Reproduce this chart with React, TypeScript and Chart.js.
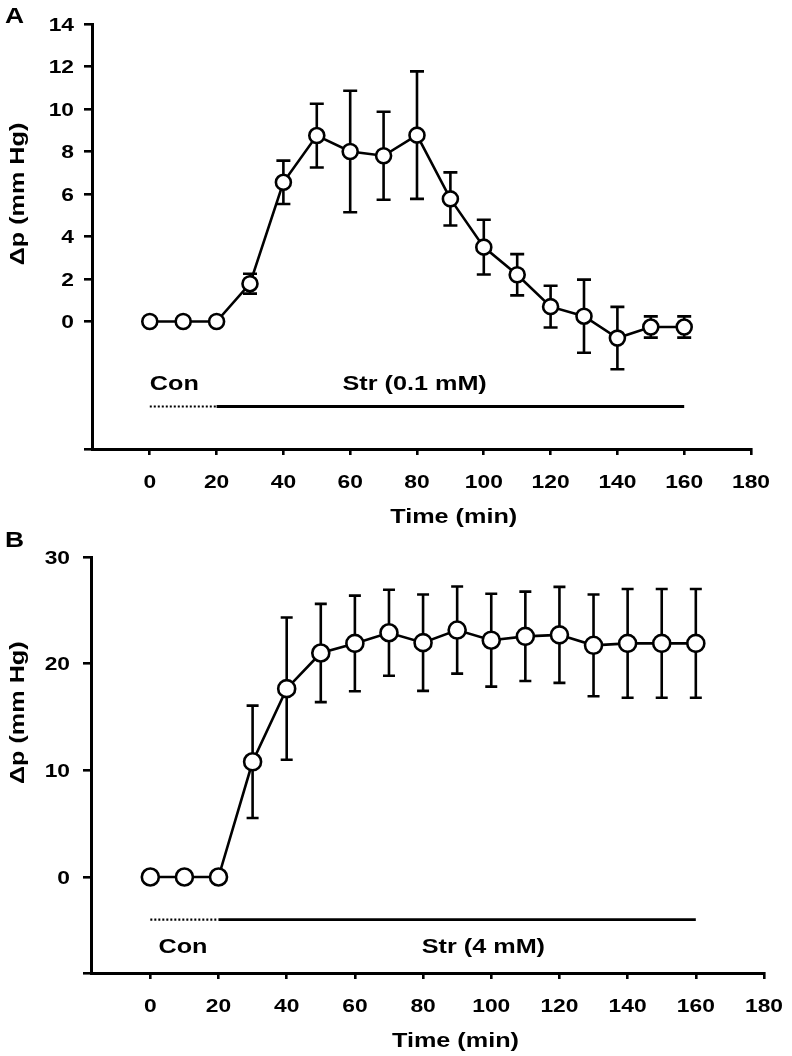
import React, { useEffect, useRef } from "react";
import { Chart, registerables } from "chart.js";

Chart.register(...registerables);

// ---------- data ----------
const times = [0, 10, 20, 30, 40, 50, 60, 70, 80, 90, 100, 110, 120, 130, 140, 150, 160];

const meanA = [0, 0, 0, 1.78, 6.55, 8.75, 8.0, 7.8, 8.77, 5.77, 3.5, 2.2, 0.7, 0.25, -0.78, -0.26, -0.26];
const semA = [0, 0, 0, 0.47, 1.02, 1.5, 2.86, 2.07, 3.0, 1.25, 1.29, 0.97, 0.98, 1.72, 1.47, 0.5, 0.5];

const meanB = [0, 0, 0, 10.8, 17.66, 21.0, 21.9, 22.9, 21.97, 23.15, 22.2, 22.56, 22.7, 21.72, 21.9, 21.9, 21.9];
const semB = [0, 0, 0, 5.27, 6.67, 4.61, 4.48, 4.03, 4.52, 4.08, 4.35, 4.19, 4.5, 4.77, 5.1, 5.1, 5.1];

const xTicks = [0, 20, 40, 60, 80, 100, 120, 140, 160, 180];
const yTicksA = [0, 2, 4, 6, 8, 10, 12, 14];
const yTicksB = [0, 10, 20, 30];

const conPeriod = [0, 20];
const strPeriod = [20, 160];
const treatLevel = -4;

const xTitle = "Time (min)";
const yTitle = "\u0394p (mm Hg)";
const conText = "Con";
const strTextA = "Str (0.1 mM)";
const strTextB = "Str (4 mM)";

// ---------- styling ----------
const FONT = "'Liberation Sans', Arial, Helvetica, sans-serif";
const SX = 1.2; // horizontal stretch of text to match the reference

type Panel = {
  letter: string;
  mean: number[];
  sem: number[];
  yMin: number;
  yMax: number;
  yTicks: number[];
  xMin: number;
  xMax: number;
  padLeft: number;
  padRight: number;
  padTop: number;
  yAxisWidth: number;
  xAxisHeight: number;
  radius: number;
  capHalf: number;
  tickLabelRight: number;
  yTitleCenter: number;
  xTitleCenter: number;
  conPos: [number, number];
  strPos: [number, number];
  strText: string;
  letterBaseline: number;
};

const panelA: Panel = {
  letter: "A",
  mean: meanA,
  sem: semA,
  yMin: -6,
  yMax: 14,
  yTicks: yTicksA,
  xMin: -17.3,
  xMax: 180,
  padLeft: 0,
  padRight: 41,
  padTop: 24,
  yAxisWidth: 92,
  xAxisHeight: 79,
  radius: 7.5,
  capHalf: 7,
  tickLabelRight: 74,
  yTitleCenter: 6,
  xTitleCenter: 91,
  conPos: [0, -2.87],
  strPos: [79.3, -2.87],
  strText: strTextA,
  letterBaseline: 23,
};

const panelB: Panel = {
  letter: "B",
  mean: meanB,
  sem: semB,
  yMin: -9,
  yMax: 30,
  yTicks: yTicksB,
  xMin: -17.4,
  xMax: 180,
  padLeft: 0,
  padRight: 28,
  padTop: 29,
  yAxisWidth: 91,
  xAxisHeight: 83,
  radius: 8.5,
  capHalf: 6,
  tickLabelRight: 70,
  yTitleCenter: 15.4,
  xTitleCenter: 89.5,
  conPos: [2.4, -6.45],
  strPos: [97.7, -6.45],
  strText: strTextB,
  letterBaseline: 18.5,
};

function stretchedText(
  ctx: CanvasRenderingContext2D,
  text: string,
  x: number,
  y: number,
  size: number,
  align: CanvasTextAlign,
  rotate = 0
) {
  ctx.save();
  ctx.translate(x, y);
  if (rotate) ctx.rotate(rotate);
  ctx.scale(SX, 1);
  ctx.font = `bold ${size}px ${FONT}`;
  ctx.fillStyle = "#000";
  ctx.textAlign = align;
  ctx.textBaseline = "alphabetic";
  ctx.fillText(text, 0, 0);
  ctx.restore();
}

function makeOverlay(p: Panel) {
  return {
    id: "overlay" + p.letter,
    beforeDatasetsDraw(chart: any) {
      const ctx: CanvasRenderingContext2D = chart.ctx;
      const xs = chart.scales.x;
      const ys = chart.scales.y;
      ctx.save();
      ctx.strokeStyle = "#000";
      ctx.lineWidth = 2.6;
      ctx.lineCap = "butt";
      times.forEach((t, i) => {
        const s = p.sem[i];
        if (!s) return;
        const x = xs.getPixelForValue(t);
        const yT = ys.getPixelForValue(p.mean[i] + s);
        const yB = ys.getPixelForValue(p.mean[i] - s);
        ctx.beginPath();
        ctx.moveTo(x, yT);
        ctx.lineTo(x, yB);
        ctx.moveTo(x - p.capHalf, yT);
        ctx.lineTo(x + p.capHalf, yT);
        ctx.moveTo(x - p.capHalf, yB);
        ctx.lineTo(x + p.capHalf, yB);
        ctx.stroke();
      });
      ctx.restore();
    },
    afterDraw(chart: any) {
      const ctx: CanvasRenderingContext2D = chart.ctx;
      const xs = chart.scales.x;
      const ys = chart.scales.y;
      const tickSize = 19;
      const capHalfH = 0.716 * tickSize * 0.5;
      // y tick labels
      p.yTicks.forEach((v) => {
        const y = ys.getPixelForValue(v);
        stretchedText(ctx, String(v), p.tickLabelRight, y + capHalfH, tickSize, "right");
      });
      // x tick labels
      const axisY = chart.chartArea.bottom;
      xTicks.forEach((v) => {
        const x = xs.getPixelForValue(v);
        stretchedText(ctx, String(v), x, axisY + 39, tickSize, "center");
      });
      // axis titles
      stretchedText(ctx, xTitle, xs.getPixelForValue(p.xTitleCenter), axisY + 73.5, 21, "center");
      stretchedText(ctx, yTitle, 24, ys.getPixelForValue(p.yTitleCenter), 21, "center", -Math.PI / 2);
      // treatment labels
      const capHalfL = 0.716 * 21 * 0.5;
      stretchedText(ctx, conText, xs.getPixelForValue(p.conPos[0]), ys.getPixelForValue(p.conPos[1]) + capHalfL, 21, "left");
      stretchedText(ctx, p.strText, xs.getPixelForValue(p.strPos[0]), ys.getPixelForValue(p.strPos[1]) + capHalfL, 21, "center");
      // panel letter
      stretchedText(ctx, p.letter, 5, p.letterBaseline, 22, "left");
    },
  };
}

function PanelChart({ p }: { p: Panel }) {
  const ref = useRef<HTMLCanvasElement | null>(null);
  useEffect(() => {
    if (!ref.current) return;
    const mainData = times.map((t, i) => ({ x: t, y: p.mean[i] }));
    const chart = new Chart(ref.current, {
      type: "line",
      data: {
        datasets: [
          {
            data: mainData,
            borderColor: "#000",
            borderWidth: 2.6,
            pointRadius: p.radius,
            pointHoverRadius: p.radius,
            pointBackgroundColor: "#fff",
            pointBorderColor: "#000",
            pointBorderWidth: 2.6,
            tension: 0,
            fill: false,
          },
          {
            data: conPeriod.map((t) => ({ x: t, y: treatLevel })),
            borderColor: "#000",
            borderWidth: 2.2,
            borderDash: [2, 2],
            pointRadius: 0,
            fill: false,
          },
          {
            data: strPeriod.map((t) => ({ x: t, y: treatLevel })),
            borderColor: "#000",
            borderWidth: 2.8,
            pointRadius: 0,
            fill: false,
          },
        ],
      },
      options: {
        animation: false,
        responsive: false,
        maintainAspectRatio: false,
        events: [],
        layout: { padding: { left: p.padLeft, right: p.padRight, top: p.padTop, bottom: 0 } },
        plugins: { legend: { display: false }, tooltip: { enabled: false } },
        scales: {
          x: {
            type: "linear",
            min: p.xMin,
            max: p.xMax,
            afterBuildTicks: (scale: any) => {
              scale.ticks = xTicks.map((v) => ({ value: v }));
            },
            afterFit: (scale: any) => {
              scale.height = p.xAxisHeight;
            },
            ticks: { display: false },
            grid: { drawOnChartArea: false, drawTicks: true, tickLength: 6, color: "#000", lineWidth: 2.6 },
            border: { display: true, color: "#000", width: 3 },
          },
          y: {
            type: "linear",
            min: p.yMin,
            max: p.yMax,
            afterBuildTicks: (scale: any) => {
              scale.ticks = [p.yMin, ...p.yTicks].map((v) => ({ value: v }));
            },
            afterFit: (scale: any) => {
              scale.width = p.yAxisWidth;
            },
            ticks: { display: false },
            grid: { drawOnChartArea: false, drawTicks: true, tickLength: 8, color: "#000", lineWidth: 2.6 },
            border: { display: true, color: "#000", width: 3 },
          },
        },
      },
      plugins: [makeOverlay(p)],
    } as any);
    return () => chart.destroy();
  }, [p]);
  return <canvas ref={ref} width={792} height={528} style={{ display: "block", width: 792, height: 528 }} />;
}

export default function App() {
  return (
    <div style={{ position: "absolute", left: 0, top: 0, width: 792, height: 1056, background: "#fff" }}>
      <PanelChart p={panelA} />
      <PanelChart p={panelB} />
    </div>
  );
}
